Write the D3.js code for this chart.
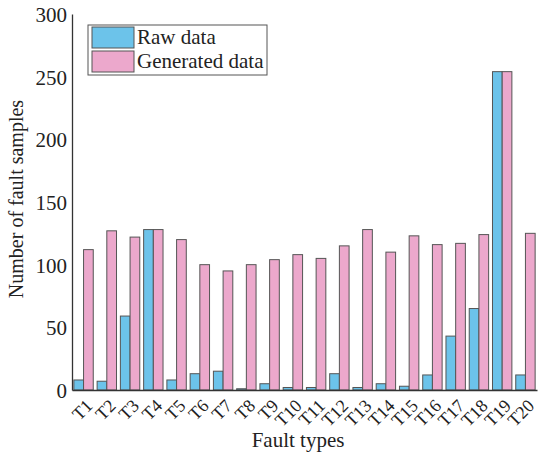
<!DOCTYPE html>
<html>
<head>
<meta charset="utf-8">
<script src="https://cdn.jsdelivr.net/npm/d3@7"></script>
<style>
  body { margin: 0; background: #fff; }
  text { font-family: "Liberation Serif", "DejaVu Serif", serif; fill: #222; }
</style>
</head>
<body>
<div id="chart"></div>
<script>
var faultTypes = ["T1","T2","T3","T4","T5","T6","T7","T8","T9","T10",
                  "T11","T12","T13","T14","T15","T16","T17","T18","T19","T20"];
var rawData = [8, 7, 59, 128, 8, 13, 15, 1, 5, 2, 2, 13, 2, 5, 3, 12, 43, 65, 254, 12];
var generatedData = [112, 127, 122, 128, 120, 100, 95, 100, 104, 108,
                     105, 115, 128, 110, 123, 116, 117, 124, 254, 125];
var seriesNames = ["Raw data", "Generated data"];
var yTicks = [0, 50, 100, 150, 200, 250, 300];

var width = 539, height = 454;
var margin = { top: 14, right: 2, bottom: 64, left: 72 };
var color = d3.scaleOrdinal().domain(seriesNames).range(["#6cc3ea", "#eca8cc"]);

var svg = d3.select("#chart").append("svg")
    .attr("width", width)
    .attr("height", height);

var x0 = d3.scaleBand()
    .domain(faultTypes)
    .range([margin.left, width - margin.right])
    .paddingInner(0.166)
    .paddingOuter(0.08);

var x1 = d3.scaleBand()
    .domain(seriesNames)
    .range([0, x0.bandwidth()]);

var y = d3.scaleLinear()
    .domain([0, 300])
    .range([height - margin.bottom, margin.top]);

var rows = faultTypes.map(function (t, i) {
    return { type: t, values: [
        { key: seriesNames[0], value: rawData[i] },
        { key: seriesNames[1], value: generatedData[i] }
    ] };
});

// bars
var groups = svg.append("g").selectAll("g")
    .data(rows)
    .join("g")
    .attr("transform", function (d) { return "translate(" + x0(d.type) + ",0)"; });

groups.selectAll("rect")
    .data(function (d) { return d.values; })
    .join("rect")
    .attr("x", function (d) { return x1(d.key); })
    .attr("y", function (d) { return y(d.value); })
    .attr("width", x1.bandwidth())
    .attr("height", function (d) { return y(0) - y(d.value); })
    .style("fill", function (d) { return color(d.key); })
    .style("stroke", "#555")
    .style("stroke-width", 1);

// y axis
var yAxis = svg.append("g")
    .attr("transform", "translate(" + margin.left + ",0)")
    .call(d3.axisLeft(y).tickValues(yTicks).tickSize(0).tickPadding(5));
yAxis.select(".domain").attr("stroke", "#333").attr("stroke-width", 1.3);
yAxis.selectAll("text")
    .style("font-size", "21px")
    .attr("dy", "0.35em");

// x axis
var xAxis = svg.append("g")
    .attr("transform", "translate(0," + y(0) + ")")
    .call(d3.axisBottom(x0).tickSize(0).tickPadding(0));
xAxis.select(".domain").attr("stroke", "#333").attr("stroke-width", 1.3);
xAxis.selectAll("text")
    .style("font-size", "18px")
    .attr("text-anchor", "end")
    .attr("dy", null)
    .attr("transform", "translate(10,17) rotate(-45)");

// axis titles
svg.append("text")
    .attr("x", 298)
    .attr("y", 447)
    .attr("text-anchor", "middle")
    .style("font-size", "21px")
    .text("Fault types");

svg.append("text")
    .attr("transform", "translate(23,199) rotate(-90)")
    .attr("text-anchor", "middle")
    .style("font-size", "20px")
    .text("Number of fault samples");

// legend
var legend = svg.append("g").attr("transform", "translate(88,25)");
legend.append("rect")
    .attr("width", 179)
    .attr("height", 50)
    .style("fill", "#fff")
    .style("stroke", "#555")
    .style("stroke-width", 1);
legend.selectAll(".swatch")
    .data(seriesNames)
    .join("rect")
    .attr("class", "swatch")
    .attr("x", 4)
    .attr("y", function (d, i) { return 2 + i * 24; })
    .attr("width", 42)
    .attr("height", 21)
    .style("fill", function (d) { return color(d); })
    .style("stroke", "#555");
legend.selectAll(".label")
    .data(seriesNames)
    .join("text")
    .attr("class", "label")
    .attr("x", 49)
    .attr("y", function (d, i) { return 19 + i * 24; })
    .style("font-size", "21px")
    .text(function (d) { return d; });
</script>
</body>
</html>
